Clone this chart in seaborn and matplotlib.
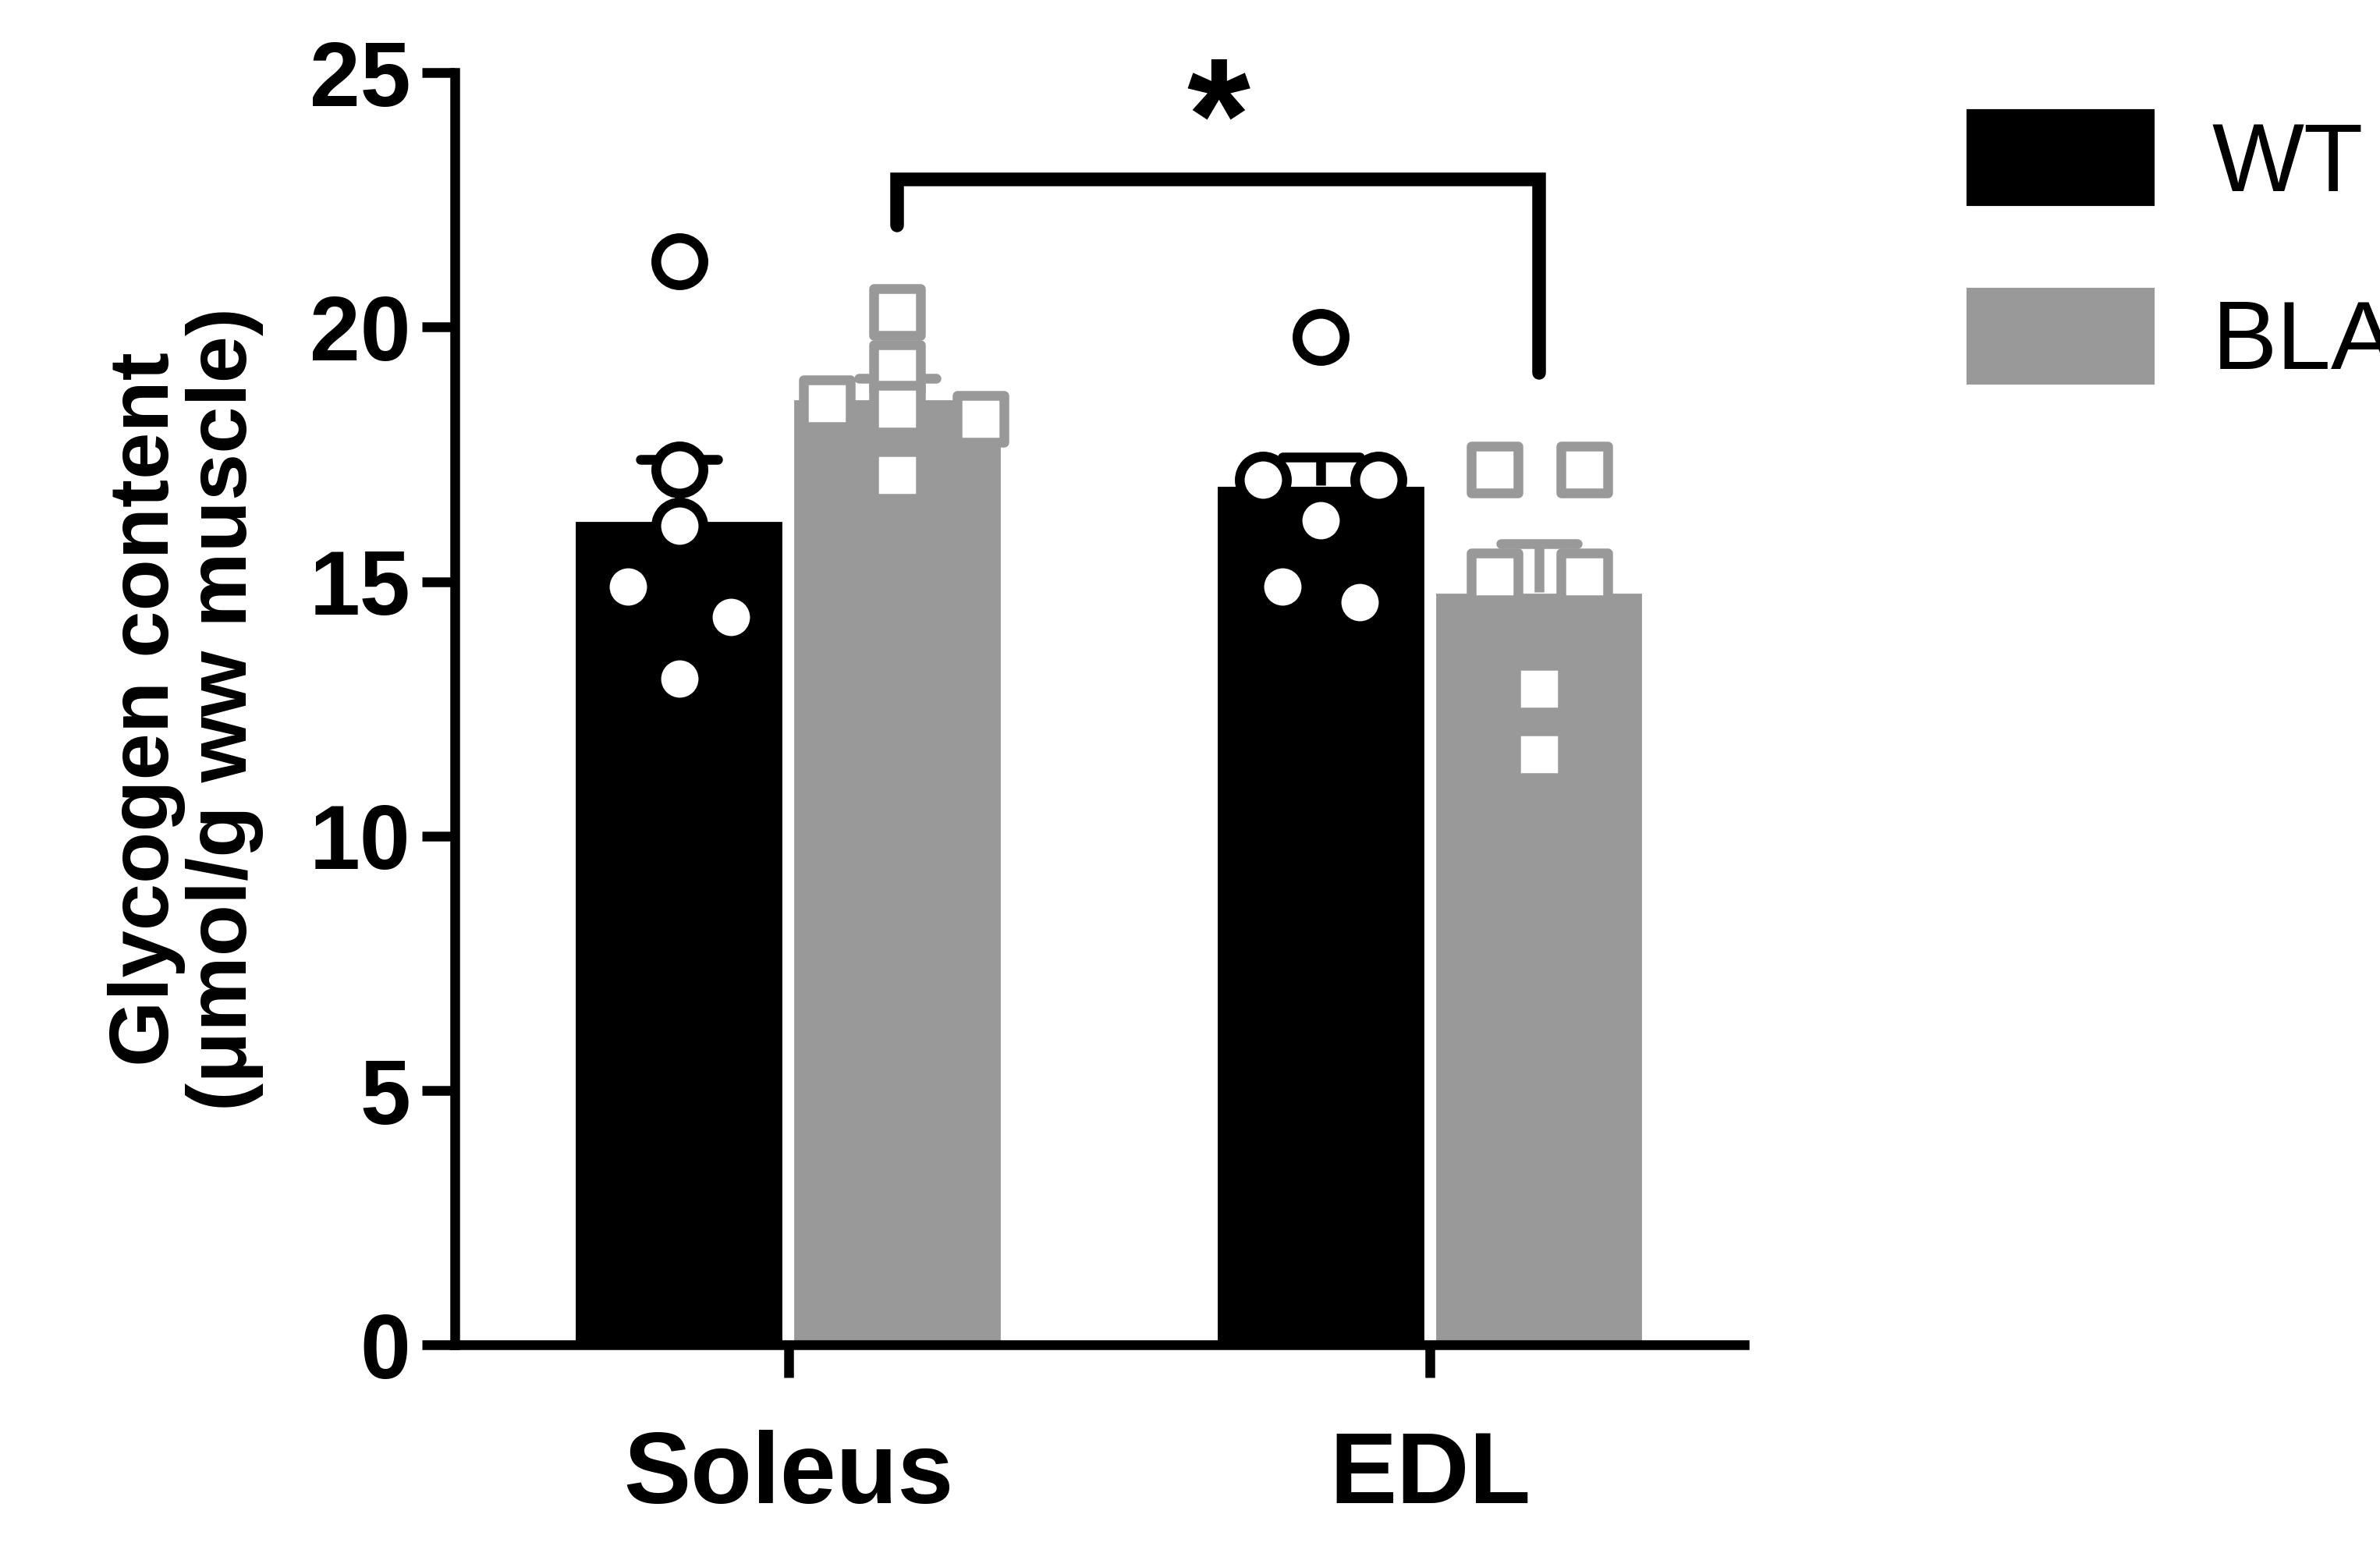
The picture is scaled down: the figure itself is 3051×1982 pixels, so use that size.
import numpy as np
import pandas as pd
import matplotlib.pyplot as plt
import seaborn as sns

sns.set_theme(style="ticks")
plt.rcParams['font.family'] = ['Liberation Sans', 'DejaVu Sans']
plt.rcParams['text.color'] = 'black'
plt.rcParams['axes.labelcolor'] = 'black'
plt.rcParams['xtick.color'] = 'black'
plt.rcParams['ytick.color'] = 'black'

# данные
muscles = ['Soleus', 'EDL']
groups = ['WT', 'BLAJ']
means_wt = [16.2, 16.9]
means_blaj = [18.6, 14.8]
sem_wt = [1.2, 0.55]
sem_blaj = [0.4, 0.95]
pts_wt_soleus = [21.3, 17.2, 16.1, 14.9, 14.3, 13.1]
pts_blaj_soleus = [20.3, 19.2, 18.5, 18.4, 18.2, 17.1]
pts_wt_edl = [19.8, 17.0, 17.0, 16.2, 14.9, 14.6]
pts_blaj_edl = [17.2, 17.2, 15.1, 15.1, 12.9, 11.6]

df = pd.DataFrame({
    'muscle': muscles * 2,
    'group': ['WT'] * 2 + ['BLAJ'] * 2,
    'value': means_wt + means_blaj,
})

fig = plt.figure(figsize=(3051 / 300, 1982 / 300), dpi=300)
ax = fig.add_axes([0.191, 0.130, 0.542, 0.823])

colors = {'WT': 'black', 'BLAJ': '#999999'}
sns.barplot(data=df, x='muscle', y='value', hue='group', order=muscles,
            hue_order=groups, palette=colors, width=0.68, gap=0.04,
            errorbar=None, ax=ax, legend=False, saturation=1)

offs = {'WT': -0.17, 'BLAJ': 0.17}
# error bars (только вверх)
for i in range(2):
    for g, m, s in (('WT', means_wt[i], sem_wt[i]), ('BLAJ', means_blaj[i], sem_blaj[i])):
        x = i + offs[g]
        c = colors[g]
        ax.plot([x, x], [m, m + s], color=c, lw=3, zorder=3, solid_capstyle='butt')
        ax.plot([x - 0.06, x + 0.06], [m + s, m + s], color=c, lw=3, zorder=3)

# точки
jit_wt = [0.0, 0.0, 0.0, -0.08, 0.08, 0.0]
jit_s = [0.0, 0.0, -0.11, 0.0, 0.13, 0.0]
jit_e_wt = [0.0, -0.09, 0.09, 0.0, -0.06, 0.06]
jit_e_bl = [-0.07, 0.07, -0.07, 0.07, 0.0, 0.0]
series = [
    (0 + offs['WT'], pts_wt_soleus, jit_wt, 'o', 'black'),
    (0 + offs['BLAJ'], pts_blaj_soleus, jit_s, 's', '#999999'),
    (1 + offs['WT'], pts_wt_edl, jit_e_wt, 'o', 'black'),
    (1 + offs['BLAJ'], pts_blaj_edl, jit_e_bl, 's', '#999999'),
]
for xc, vals, jit, mk, ec in series:
    ax.scatter(np.array(jit) + xc, vals, s=210, marker=mk, facecolor='white',
               edgecolor=ec, linewidth=3, zorder=4)

# скобка значимости
ax.plot([0.17, 0.17, 1.17, 1.17], [22.0, 22.9, 22.9, 19.1], color='black',
        lw=4.2, clip_on=False, solid_joinstyle='miter')
ax.text(0.67, 23.9, '*', ha='center', va='center', fontsize=50,
        fontweight='bold', clip_on=False)

ax.set_ylim(0, 25)
ax.set_xlim(-0.52, 1.49)
ax.set_yticks([0, 5, 10, 15, 20, 25])
ax.set_xlabel('')
ax.set_ylabel('Glycogen content\n(μmol/g ww muscle)', fontsize=26,
              fontweight='bold', labelpad=14, linespacing=1.0)
ax.tick_params(axis='both', labelsize=28, width=3, length=10)
for lab in ax.get_xticklabels() + ax.get_yticklabels():
    lab.set_fontweight('bold')
ax.tick_params(axis='x', pad=16, labelsize=31)
for sp in ['top', 'right']:
    ax.spines[sp].set_visible(False)
for sp in ['left', 'bottom']:
    ax.spines[sp].set_linewidth(3)
    ax.spines[sp].set_color('black')

handles = [plt.Rectangle((0, 0), 1, 1, color=colors[g]) for g in groups]
fig.legend(handles, groups, loc='upper left', bbox_to_anchor=(0.79, 0.985),
           frameon=False, fontsize=30, handlelength=1.9, handleheight=1.1,
           labelspacing=0.8, handletextpad=0.6)

plt.savefig('out.png', dpi=300)
plt.close()
